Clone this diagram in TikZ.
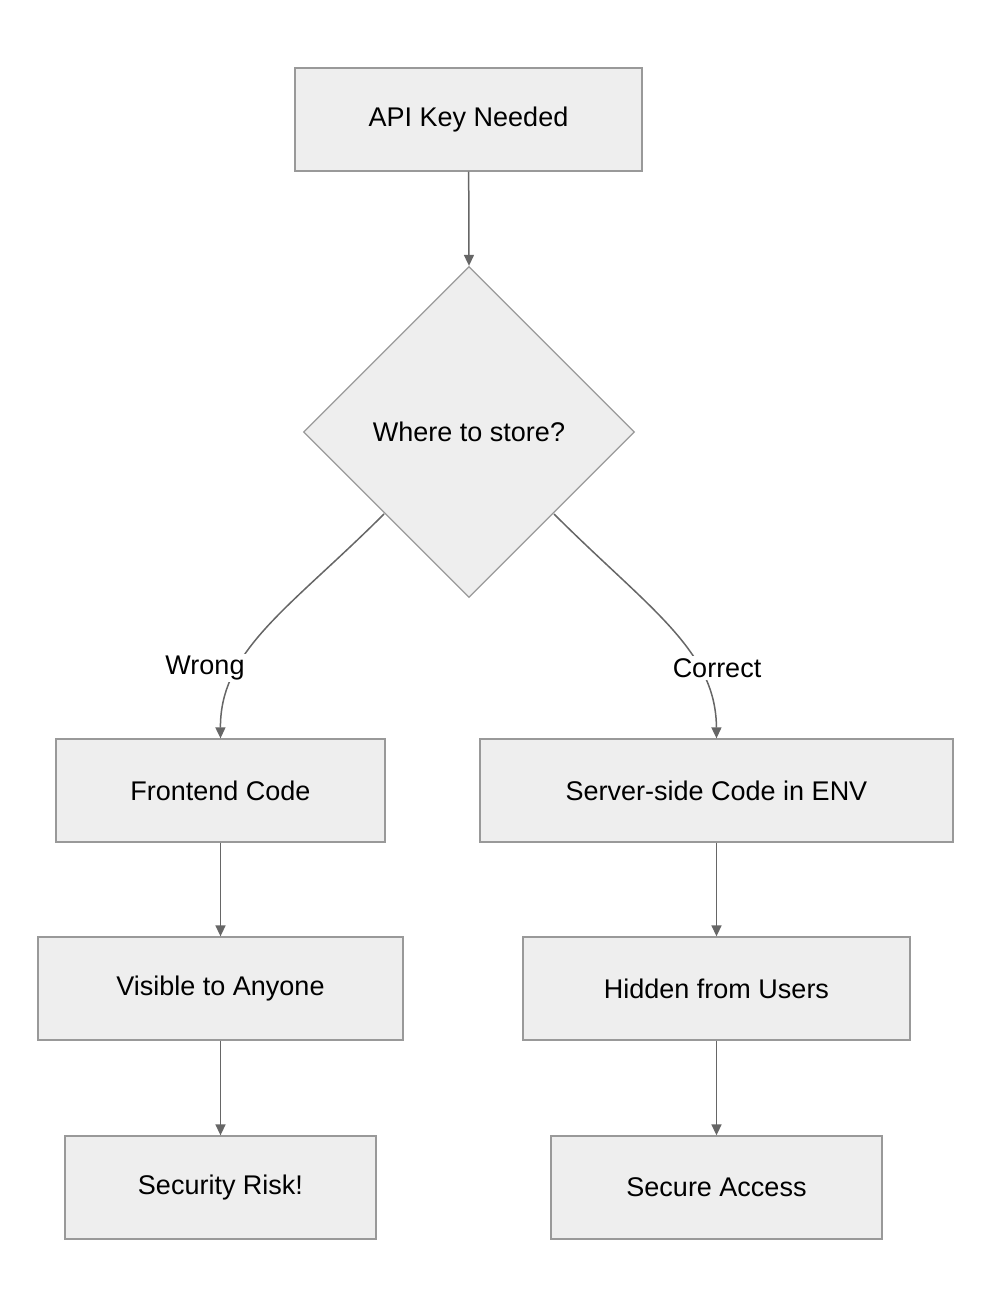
\documentclass[tikz,border=0pt]{standalone}
\usepackage{fontspec}
\setmainfont{Liberation Sans}
\usetikzlibrary{shapes.geometric,arrows.meta}
\definecolor{boxfill}{HTML}{EEEEEE}
\definecolor{boxline}{HTML}{999999}
\definecolor{arr}{HTML}{666666}
\begin{document}
\begin{tikzpicture}[x=1pt,y=-1pt,
  box/.style={draw=boxline,fill=boxfill,line width=1.3pt,minimum height=103pt,inner sep=0pt,font=\fontsize{27}{30}\selectfont},
  lab/.style={fill=white,inner sep=2pt,font=\fontsize{27}{30}\selectfont},
  con/.style={draw=arr,line width=1.5pt,-{Triangle[length=11pt,width=10pt]}}]
\useasboundingbox (0,0) rectangle (992,1308);
\node[box,minimum width=347pt] (api) at (468.5,119.5) {API Key Needed};
\node[draw=boxline,fill=boxfill,line width=1.3pt,diamond,minimum width=331pt,minimum height=331pt,inner sep=0pt,font=\fontsize{27}{30}\selectfont] (d) at (469,432) {Where to store?};
\node[box,minimum width=329pt] (fe) at (220.5,790.5) {Frontend Code};
\node[box,minimum width=473pt] (sv) at (716.5,790.5) {Server-side Code in ENV};
\node[box,minimum width=365pt] (vis) at (220.5,988.5) {Visible to Anyone};
\node[box,minimum width=387pt] (hid) at (716.5,988.5) {Hidden from Users};
\node[box,minimum width=311pt] (risk) at (220.5,1187.5) {Security Risk!};
\node[box,minimum width=331pt] (sec) at (716.5,1187.5) {Secure Access};
\coordinate (dl) at (384,514);
\coordinate (dr) at (554,514);
\draw[con] (api) -- (d.north);
\draw[con] (dl) .. controls (290,608) and (220,650) .. (fe.north);
\draw[con] (dr) .. controls (648,608) and (716,650) .. (sv.north);
\node[lab] (wl) at (205,668) {Wrong};
\node[lab] (cl) at (717,668) {Correct};
\draw[con] (fe) -- (vis);
\draw[con] (vis) -- (risk);
\draw[con] (sv) -- (hid);
\draw[con] (hid) -- (sec);
\end{tikzpicture}
\end{document}
